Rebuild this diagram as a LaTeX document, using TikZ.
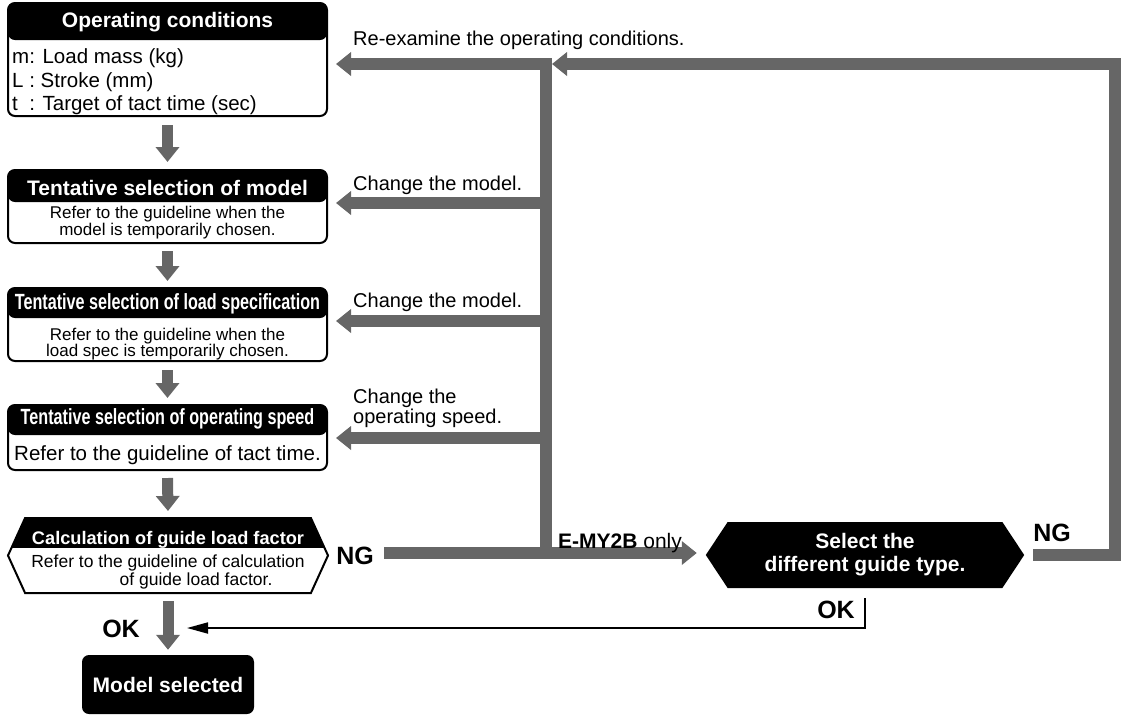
\documentclass[tikz,border=0pt]{standalone}
\usepackage{fontspec}
\setmainfont{Liberation Sans}
\newfontfamily\narrowfont[FakeStretch=0.735]{Liberation Sans}
\usepackage{tikz}
\usetikzlibrary{arrows.meta,positioning,calc,shapes.symbols}
\definecolor{selgray}{HTML}{666666}
\tikzset{
  sel/box/.style={
    draw=black, line width=2pt, fill=white, rounded corners=7pt,
    minimum width=319pt, inner sep=0pt
  },
  sel/hex/.style={
    signal, signal to=east and west, draw=black, line width=2pt, fill=white,
    inner sep=0pt
  },
  sel/band/.style={
    path picture={\fill[black] ([yshift=3pt]path picture bounding box.north west)
      rectangle ([yshift=-#1]path picture bounding box.north east);}
  },
  sel/dark/.style={
    fill=black, text=white, rounded corners=7pt, inner sep=0pt,
    font=\bfseries\fontsize{21}{23}\selectfont, align=center
  },
  sel/head/.style={text=white, inner sep=0pt, font=\bfseries\fontsize{21}{23}\selectfont},
  sel/body/.style={inner sep=0pt, align=center, font=\fontsize{17}{16.5}\selectfont},
  sel/lbl/.style={inner sep=0pt, align=left, font=\fontsize{20}{20}\selectfont},
  sel/flag/.style={inner sep=0pt, font=\bfseries\fontsize{25}{25}\selectfont},
  sel/arr/.style={-{Triangle[width=23pt,length=15pt]}, selgray, line width=12pt, line join=miter},
  sel/line/.style={selgray, line width=12pt},
  sel/okarr/.style={-{Triangle[width=11pt,length=21pt]}, black, line width=1.8pt}
}
\begin{document}
\begin{tikzpicture}[x=1pt, y=-1pt]
  \useasboundingbox (0,0) rectangle (1124,716);

  % left column
  \node[sel/box, sel/band=37pt, minimum height=113pt] (cond) at (167.5,59.5) {};
  \node[sel/head, anchor=base] (cond-h) at ([yshift=-25pt]cond.north) {Operating conditions};
  \node[sel/body, anchor=west, align=left, font=\fontsize{20.5}{23.5}\selectfont]
    (cond-b) at ([xshift=5pt]cond.west |- 0,82)
    {m: Load mass (kg)\\L : Stroke (mm)\\t\ \ : Target of tact time (sec)};

  \node[sel/box, sel/band=32pt, minimum height=73pt] (model) at (167.5,206.5) {};
  \node[sel/head, anchor=base] (model-h) at ([yshift=-26pt]model.north) {Tentative selection of model};
  \node[sel/body] (model-b) at (167.5,222.5) {Refer to the guideline when the\\model is temporarily chosen.};

  \node[sel/box, sel/band=30pt, minimum height=73pt] (spec) at (167.5,324.5) {};
  \node[sel/head, anchor=base, font=\narrowfont\bfseries\fontsize{22}{23}\selectfont]
    (spec-h) at ([yshift=-22pt]spec.north) {Tentative selection of load specification};
  \node[sel/body] (spec-b) at (167.5,344) {Refer to the guideline when the\\load spec is temporarily chosen.};

  \node[sel/box, sel/band=30pt, minimum height=65pt] (speed) at (167.5,437.5) {};
  \node[sel/head, anchor=base, font=\narrowfont\bfseries\fontsize{22}{23}\selectfont]
    (speed-h) at ([yshift=-20pt]speed.north) {Tentative selection of operating speed};
  \node[sel/body, font=\fontsize{20.5}{21}\selectfont] (speed-b) at (167.5,455) {Refer to the guideline of tact time.};

  \node[sel/hex, sel/band=30pt, signal pointer angle=131, minimum width=320pt, minimum height=75pt]
    (guide) at (168,555.5) {};
  \node[sel/head, anchor=base, font=\bfseries\fontsize{18.2}{20}\selectfont]
    (guide-h) at (168,544) {Calculation of guide load factor};
  \node[sel/body, font=\fontsize{17.5}{18}\selectfont] (guide-b) at (168,572)
    {Refer to the guideline of calculation\\\hspace*{56pt}of guide load factor.};

  \node[sel/dark, minimum width=172pt, minimum height=59pt] (result) at (168,684.5) {Model selected};

  \foreach \a/\b/\s/\e in {cond/model/8/7, model/spec/7/6, spec/speed/8/6, speed/guide/7/6, guide/result/7/5}
    \draw[sel/arr, line width=11pt] ([yshift=-\s pt]\a.south) -- ([yshift=\e pt]\b.north);

  % right side
  \node[sel/hex, fill=black, text=white, align=center, signal pointer angle=113,
    minimum width=316pt, minimum height=64pt, font=\bfseries\fontsize{21}{23}\selectfont]
    (guidetype) at (865,555) {Select the\\different guide type.};

  \coordinate (trunk-top) at (546,58);
  \coordinate (trunk-bot) at (546,559);
  \coordinate (loop) at (1115,64);
  \coordinate (trunk-r) at (552,64);
  \coordinate (okend) at (187,628);

  \draw[sel/line] (trunk-top) -- (trunk-bot);
  \foreach \bx/\y in {cond/64, model/203, spec/321, speed/438}
    \draw[sel/arr] (546,\y) -- ([xshift=8pt]\bx.east |- 0,\y);

  \node[sel/flag, anchor=west] (ng-a) at ([xshift=7pt]guide.east) {NG};
  \draw[sel/arr] ([xshift=10pt]ng-a.east |- 0,553) -- ([xshift=-9pt]guidetype.west |- 0,553);
  \draw[sel/arr] ([xshift=9pt]guidetype.east) -| (loop) -- (trunk-r);
  \draw[sel/okarr] ([yshift=-10pt]guidetype.south) |- (okend);

  % labels
  \node[sel/lbl, anchor=base west] (l-cond) at (353,45) {Re-examine the operating conditions.};
  \node[sel/lbl, anchor=base west] (l-model) at (353,190) {Change the model.};
  \node[sel/lbl, anchor=base west] (l-spec) at (353,307) {Change the model.};
  \node[sel/lbl, anchor=south west] (l-speed) at (353,428) {Change the\\operating speed.};
  \node[sel/lbl, anchor=base west, font=\fontsize{21}{21}\selectfont] (only) at (558,548)
    {\bfseries E-MY2B\mdseries\ only};
  \node[sel/flag] (ng-b) at (1052,533) {NG};
  \node[sel/flag] (ok-b) at (836,610) {OK};
  \node[sel/flag] (ok-a) at (121,629) {OK};
\end{tikzpicture}
\end{document}
